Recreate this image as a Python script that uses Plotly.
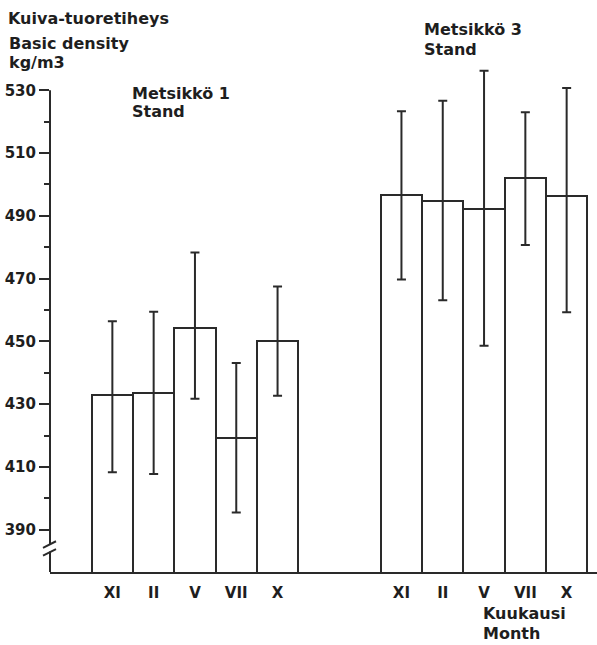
import plotly.graph_objects as go

# Months sampled for each stand
months = ["XI", "II", "V", "VII", "X"]

# Stand 1 (Metsikkö 1): mean basic density and the ends of the range bars, kg/m3
stand1_mean = [432.8, 433.5, 454.3, 419.2, 450.0]
stand1_high = [456.4, 459.4, 478.3, 443.1, 467.5]
stand1_low = [408.3, 407.7, 431.7, 395.5, 432.7]

# Stand 3 (Metsikkö 3)
stand3_mean = [496.8, 494.8, 492.3, 502.1, 496.2]
stand3_high = [523.3, 526.7, 536.2, 523.0, 530.7]
stand3_low = [469.7, 463.1, 448.6, 480.7, 459.3]

# Axis ticks
major_ticks = [390, 410, 430, 450, 470, 490, 510, 530]
minor_ticks = [400, 420, 440, 460, 480, 500, 520]

# Figure geometry
W, H = 597, 645
M_L, M_R, M_T, M_B = 50, 0, 58, 73
Y_MIN, Y_MAX = 376.5, 540.3
X_MIN, X_MAX = -1.51, 11.735
INK = "#2a2a2a"
FONT = "DejaVu Sans"

pos1 = list(range(len(months)))
pos3 = [p + 7 for p in pos1]


def bar_trace(x, mean, high, low):
    return go.Bar(
        x=x,
        y=mean,
        width=1.0,
        marker=dict(color="white", line=dict(color=INK, width=2)),
        error_y=dict(
            type="data",
            symmetric=False,
            array=[h - m for h, m in zip(high, mean)],
            arrayminus=[m - l for m, l in zip(mean, low)],
            color=INK,
            thickness=2,
            width=4.5,
        ),
        showlegend=False,
        hoverinfo="skip",
    )


fig = go.Figure()
fig.add_trace(bar_trace(pos1, stand1_mean, stand1_high, stand1_low))
fig.add_trace(bar_trace(pos3, stand3_mean, stand3_high, stand3_low))

plot_w = W - M_L - M_R
plot_h = H - M_T - M_B


def px_x(px):
    """Pixel column -> paper x."""
    return (px - M_L) / plot_w


def px_y(py):
    """Pixel row -> paper y."""
    return (H - M_B - py) / plot_h


# Broken vertical axis: line from the bottom up to the top tick, with a "//" break
BREAK_LO, BREAK_HI = 383.0, 385.2
shapes = [
    dict(type="line", xref="paper", yref="y", x0=0, x1=0, y0=BREAK_HI, y1=major_ticks[-1],
         line=dict(color=INK, width=2)),
    dict(type="line", xref="paper", yref="y", x0=0, x1=0, y0=Y_MIN, y1=BREAK_LO,
         line=dict(color=INK, width=2)),
    dict(type="line", xref="paper", yref="y", x0=px_x(43), x1=px_x(56),
         y0=BREAK_HI - 1.0, y1=BREAK_HI + 1.1, line=dict(color=INK, width=2)),
    dict(type="line", xref="paper", yref="y", x0=px_x(43), x1=px_x(56),
         y0=BREAK_LO - 1.3, y1=BREAK_LO + 0.8, line=dict(color=INK, width=2)),
]

text_font = dict(family=FONT, size=16, color="#1e1e1e", weight="bold")


def label(text, px, py):
    return dict(text=text, xref="paper", yref="paper", x=px_x(px), y=px_y(py),
                xanchor="left", yanchor="middle", showarrow=False, font=text_font)


annotations = [
    label("Kuiva-tuoretiheys", 6, 18),
    label("Basic density", 7, 43),
    label("kg/m3", 7, 63),
    label("Metsikkö 1", 130, 93),
    label("Stand", 130, 112),
    label("Metsikkö 3", 422, 30),
    label("Stand", 422, 49),
    label("Kuukausi", 481, 613),
    label("Month", 481, 633),
]

fig.update_layout(
    width=W,
    height=H,
    margin=dict(l=M_L, r=M_R, t=M_T, b=M_B, pad=0),
    paper_bgcolor="white",
    plot_bgcolor="white",
    bargap=0,
    shapes=shapes,
    annotations=annotations,
    font=dict(family=FONT, color="#1e1e1e"),
)

fig.update_xaxes(
    range=[X_MIN, X_MAX],
    tickvals=pos1 + pos3,
    ticktext=months + months,
    ticks="",
    showgrid=False,
    zeroline=False,
    showline=True,
    linecolor=INK,
    linewidth=2,
    ticklabelstandoff=6,
    tickfont=dict(family=FONT, size=15, color="#1e1e1e", weight="bold"),
)

fig.update_yaxes(
    range=[Y_MIN, Y_MAX],
    tickvals=major_ticks,
    ticks="outside",
    ticklen=10,
    tickwidth=2,
    tickcolor=INK,
    minor=dict(tickvals=minor_ticks, ticks="outside", ticklen=5, tickwidth=2, tickcolor=INK),
    showgrid=False,
    zeroline=False,
    showline=False,
    tickfont=dict(family=FONT, size=15, color="#1e1e1e", weight="bold"),
)

fig.write_html("out.html")
